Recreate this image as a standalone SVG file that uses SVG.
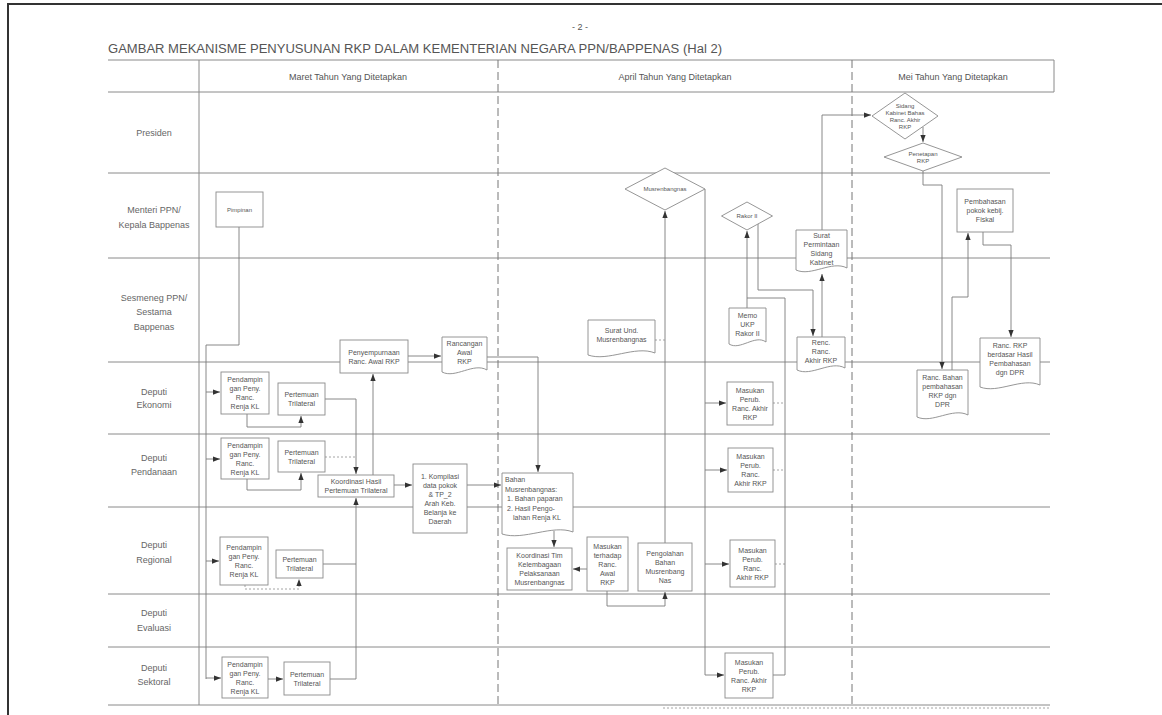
<svg xmlns="http://www.w3.org/2000/svg" width="1162" height="715" viewBox="0 0 1162 715">
<defs>
<marker id="a" viewBox="0 0 8 6" refX="8" refY="3" markerWidth="7" markerHeight="5.5" markerUnits="userSpaceOnUse" orient="auto"><path d="M0,0 L8,3 L0,6 z" fill="#333"/></marker>
<style>
.frame{stroke:#333;stroke-width:2;fill:none}
.grid{stroke:#8a8a8a;stroke-width:1;fill:none}
.dash{stroke:#777;stroke-width:1;fill:none;stroke-dasharray:8 4}
.box{fill:#fff;stroke:#8a8a8a;stroke-width:0.9}
.ln{fill:none;stroke:#7a7a7a;stroke-width:0.9}
.lnd{fill:none;stroke:#9a9a9a;stroke-width:0.9;stroke-dasharray:2 2}
.t{font-family:"Liberation Sans",Arial,sans-serif;font-size:7px;fill:#555;text-anchor:middle}
.ts{font-family:"Liberation Sans",Arial,sans-serif;font-size:6px;fill:#555;text-anchor:middle}
.tl{font-family:"Liberation Sans",Arial,sans-serif;font-size:7px;fill:#555}
.lab{font-family:"Liberation Sans",Arial,sans-serif;font-size:9px;fill:#666;text-anchor:middle}
.hd{font-family:"Liberation Sans",Arial,sans-serif;font-size:9px;fill:#555;text-anchor:middle}
</style>
</defs>
<rect width="1162" height="715" fill="#fff"/>
<!-- page frame -->
<path class="frame" d="M8,715 V4 H1162"/>
<text x="580" y="30" class="hd" font-size="11">- 2 -</text>
<text x="108" y="53" font-family="Liberation Sans, Arial, sans-serif" font-size="12" fill="#555" textLength="614" lengthAdjust="spacingAndGlyphs">GAMBAR MEKANISME PENYUSUNAN RKP DALAM KEMENTERIAN NEGARA PPN/BAPPENAS (Hal 2)</text>

<!-- table grid -->
<g id="grid">
<path class="grid" d="M108,60 H1054 V92" stroke-width="1.5"/>
<path class="grid" d="M108,92 H1054 M108,173 H1050 M108,258 H1050 M108,362 H1050 M108,434 H1050 M108,507 H1050 M108,594 H1050 M108,647 H1050 M108,705 H1050"/>
<path class="grid" d="M199,60 V705"/>
<path class="dash" d="M498,60 V705 M852,60 V705"/>
<path class="lnd" d="M663,708 H1050"/>
</g>
<g id="headers">
<text x="348" y="80" class="hd">Maret Tahun Yang Ditetapkan</text>
<text x="675" y="80" class="hd">April Tahun Yang Ditetapkan</text>
<text x="953" y="80" class="hd">Mei Tahun Yang Ditetapkan</text>
</g>
<g id="lanes">
<text x="154" y="136" class="lab">Presiden</text>
<text class="lab"><tspan x="154" y="213">Menteri PPN/</tspan><tspan x="154" y="228">Kepala Bappenas</tspan></text>
<text class="lab"><tspan x="154" y="301">Sesmeneg PPN/</tspan><tspan x="154" y="315">Sestama</tspan><tspan x="154" y="330">Bappenas</tspan></text>
<text class="lab"><tspan x="154" y="395">Deputi</tspan><tspan x="154" y="408">Ekonomi</tspan></text>
<text class="lab"><tspan x="154" y="461">Deputi</tspan><tspan x="154" y="475">Pendanaan</tspan></text>
<text class="lab"><tspan x="154" y="548">Deputi</tspan><tspan x="154" y="563">Regional</tspan></text>
<text class="lab"><tspan x="154" y="616">Deputi</tspan><tspan x="154" y="631">Evaluasi</tspan></text>
<text class="lab"><tspan x="154" y="671">Deputi</tspan><tspan x="154" y="685">Sektoral</tspan></text>
</g>

<!-- connectors -->
<g id="connectors">
<path class="ln" d="M239,227 V345 H206 V679"/>
<path class="ln" d="M206,392 H220" marker-end="url(#a)"/>
<path class="ln" d="M206,459 H220" marker-end="url(#a)"/>
<path class="ln" d="M206,561 H219" marker-end="url(#a)"/>
<path class="ln" d="M206,678 H221" marker-end="url(#a)"/>
<path class="ln" d="M247,414 V427 H301 V416" marker-end="url(#a)"/>
<path class="ln" d="M247,479 V490 H301 V473" marker-end="url(#a)"/>
<path class="ln" d="M325,399 H356 V474" marker-end="url(#a)"/>
<path class="lnd" d="M325,457 H356"/>
<path class="lnd" d="M245,585 V589 H299 V579" marker-end="url(#a)"/>
<path class="ln" d="M323,564 H356"/>
<path class="ln" d="M268,679 H283" marker-end="url(#a)"/>
<path class="ln" d="M330,679 H356 V498" marker-end="url(#a)"/>
<path class="ln" d="M373,475 V374" marker-end="url(#a)"/>
<path class="ln" d="M394,485 H412" marker-end="url(#a)"/>
<path class="ln" d="M408,356 H441" marker-end="url(#a)"/>
<path class="ln" d="M487,357 H538 V472" marker-end="url(#a)"/>
<path class="ln" d="M467,485 H501" marker-end="url(#a)"/>
<path class="ln" d="M554,531 V547" marker-end="url(#a)"/>
<path class="ln" d="M587,569 H573" marker-end="url(#a)"/>
<path class="ln" d="M607,591 V606 H665 V592" marker-end="url(#a)"/>
<path class="ln" d="M665,543 V211" marker-end="url(#a)"/>
<path class="lnd" d="M655,340 H665"/>
<path class="ln" d="M705,189 V675 H724" marker-end="url(#a)"/>
<path class="ln" d="M705,403 H726" marker-end="url(#a)"/>
<path class="ln" d="M705,470 H727" marker-end="url(#a)"/>
<path class="ln" d="M705,564 H729" marker-end="url(#a)"/>
<path class="lnd" d="M773,403 H785 M773,470 H785 M775,564 H785"/>
<path class="ln" d="M773,675 H785 V298 H747"/>
<path class="ln" d="M747,308 V231" marker-end="url(#a)"/>
<path class="ln" d="M758,222 V290 H813 V336" marker-end="url(#a)"/>
<path class="ln" d="M822,337 V274" marker-end="url(#a)"/>
<path class="ln" d="M822,230 V115 H871" marker-end="url(#a)"/>
<path class="ln" d="M923,127 V142" marker-end="url(#a)"/>
<path class="ln" d="M923,171 V185 H942 V369" marker-end="url(#a)"/>
<path class="ln" d="M952,370 V297 H968 V233" marker-end="url(#a)"/>
<path class="ln" d="M983,232 V245 H1011 V337" marker-end="url(#a)"/>
</g>

<!-- nodes -->
<g id="n-pimpinan"><rect class="box" x="216" y="192" width="47" height="35"/><text x="239.5" y="212" class="ts">Pimpinan</text></g>

<g id="n-pend-eko"><rect class="box" x="221" y="372" width="48" height="42"/><text class="t"><tspan x="245" y="382">Pendampin</tspan><tspan x="245" y="391">gan Peny.</tspan><tspan x="245" y="400">Ranc.</tspan><tspan x="245" y="409">Renja KL</tspan></text></g>
<g id="n-pert-eko"><rect class="box" x="278" y="383" width="47" height="32"/><text class="t"><tspan x="301.5" y="397">Pertemuan</tspan><tspan x="301.5" y="406">Trilateral</tspan></text></g>
<g id="n-pend-pend"><rect class="box" x="221" y="438" width="48" height="41"/><text class="t"><tspan x="245" y="447.5">Pendampin</tspan><tspan x="245" y="456.5">gan Peny.</tspan><tspan x="245" y="465.5">Ranc.</tspan><tspan x="245" y="474.5">Renja KL</tspan></text></g>
<g id="n-pert-pend"><rect class="box" x="278" y="441" width="47" height="31"/><text class="t"><tspan x="301.5" y="454.5">Pertemuan</tspan><tspan x="301.5" y="463.5">Trilateral</tspan></text></g>
<g id="n-koordinasi"><rect class="box" x="318" y="475" width="76" height="22"/><text class="t"><tspan x="356" y="484">Koordinasi Hasil</tspan><tspan x="356" y="493">Pertemuan Trilateral</tspan></text></g>
<g id="n-kompilasi"><rect class="box" x="413" y="464" width="54" height="69"/><text class="t"><tspan x="440" y="478.5">1. Kompilasi</tspan><tspan x="440" y="487.5">data pokok</tspan><tspan x="440" y="496.5">&amp; TP_2</tspan><tspan x="440" y="505.5">Arah Keb.</tspan><tspan x="440" y="514.5">Belanja ke</tspan><tspan x="440" y="523.5">Daerah</tspan></text></g>
<g id="n-penyempurnaan"><rect class="box" x="340" y="340" width="68" height="33"/><text class="t"><tspan x="374" y="354.5">Penyempurnaan</tspan><tspan x="374" y="363.5">Ranc. Awal RKP</tspan></text></g>
<g id="n-ranc-awal"><path class="box" d="M442,337 H487 V370 C473.5,362 455.5,379 442,372 Z"/><text class="t"><tspan x="464.5" y="345.5">Rancangan</tspan><tspan x="464.5" y="354.5">Awal</tspan><tspan x="464.5" y="363.5">RKP</tspan></text></g>
<g id="n-pend-reg"><rect class="box" x="220" y="537" width="48" height="48"/><text class="t"><tspan x="244" y="550">Pendampin</tspan><tspan x="244" y="559">gan Peny.</tspan><tspan x="244" y="568">Ranc.</tspan><tspan x="244" y="577">Renja KL</tspan></text></g>
<g id="n-pert-reg"><rect class="box" x="276" y="550" width="47" height="28"/><text class="t"><tspan x="299.5" y="562">Pertemuan</tspan><tspan x="299.5" y="571">Trilateral</tspan></text></g>
<g id="n-pend-sek"><rect class="box" x="222" y="657" width="46" height="41"/><text class="t"><tspan x="245" y="666.5">Pendampin</tspan><tspan x="245" y="675.5">gan Peny.</tspan><tspan x="245" y="684.5">Ranc.</tspan><tspan x="245" y="693.5">Renja KL</tspan></text></g>
<g id="n-pert-sek"><rect class="box" x="284" y="662" width="46" height="33"/><text class="t"><tspan x="307" y="676.5">Pertemuan</tspan><tspan x="307" y="685.5">Trilateral</tspan></text></g>

<g id="n-bahan-musren"><path class="box" d="M502,473 H573 V532 C552.7,524 523.3,541 502,534 Z"/><text class="tl"><tspan x="505" y="482">Bahan</tspan><tspan x="505" y="491.5">Musrenbangnas:</tspan><tspan x="507" y="501">1. Bahan paparan</tspan><tspan x="507" y="510.5">2. Hasil Pengo-</tspan><tspan x="513" y="520">lahan Renja KL</tspan></text></g>
<g id="n-koord-tim"><rect class="box" x="507" y="548" width="65" height="42"/><text class="t"><tspan x="539.5" y="558">Koordinasi Tim</tspan><tspan x="539.5" y="567">Kelembagaan</tspan><tspan x="539.5" y="576">Pelaksanaan</tspan><tspan x="539.5" y="585">Musrenbangnas</tspan></text></g>
<g id="n-masukan-awal"><rect class="box" x="587" y="537" width="41" height="54"/><text class="t"><tspan x="607.5" y="548.5">Masukan</tspan><tspan x="607.5" y="557.5">terhadap</tspan><tspan x="607.5" y="566.5">Ranc.</tspan><tspan x="607.5" y="575.5">Awal</tspan><tspan x="607.5" y="584.5">RKP</tspan></text></g>
<g id="n-pengolahan"><rect class="box" x="638" y="543" width="54" height="48"/><text class="t"><tspan x="665" y="556">Pengolahan</tspan><tspan x="665" y="565">Bahan</tspan><tspan x="665" y="574">Musrenbang</tspan><tspan x="665" y="583">Nas</tspan></text></g>
<g id="n-musrenbangnas"><polygon class="box" points="625,189 665,168 705,189 665,210"/><text x="665" y="191" class="ts">Musrenbangnas</text></g>
<g id="n-surat-und"><path class="box" d="M588,320 H655 V353 C634.9,345 608.1,362 588,355 Z"/><text class="t"><tspan x="621.5" y="333">Surat Und.</tspan><tspan x="621.5" y="342">Musrenbangnas</tspan></text></g>

<g id="n-masukan-eko"><rect class="box" x="727" y="382" width="46" height="43"/><text class="t"><tspan x="750" y="392.5">Masukan</tspan><tspan x="750" y="401.5">Perub.</tspan><tspan x="750" y="410.5">Ranc. Akhir</tspan><tspan x="750" y="419.5">RKP</tspan></text></g>
<g id="n-masukan-pend"><rect class="box" x="728" y="448" width="45" height="44"/><text class="t"><tspan x="750.5" y="459">Masukan</tspan><tspan x="750.5" y="468">Perub.</tspan><tspan x="750.5" y="477">Ranc.</tspan><tspan x="750.5" y="486">Akhir RKP</tspan></text></g>
<g id="n-masukan-reg"><rect class="box" x="730" y="540" width="45" height="47"/><text class="t"><tspan x="752.5" y="552.5">Masukan</tspan><tspan x="752.5" y="561.5">Perub.</tspan><tspan x="752.5" y="570.5">Ranc.</tspan><tspan x="752.5" y="579.5">Akhir RKP</tspan></text></g>
<g id="n-masukan-sek"><rect class="box" x="725" y="653" width="48" height="45"/><text class="t"><tspan x="749" y="664.5">Masukan</tspan><tspan x="749" y="673.5">Perub.</tspan><tspan x="749" y="682.5">Ranc. Akhir</tspan><tspan x="749" y="691.5">RKP</tspan></text></g>
<g id="n-rakor"><polygon class="box" points="721.5,216 747,202 772.5,216 747,230"/><text x="747" y="218" class="ts">Rakor II</text></g>
<g id="n-memo"><path class="box" d="M729,308 H766 V342 C754.9,334 740.1,351 729,344 Z"/><text class="t"><tspan x="747.5" y="317.5">Memo</tspan><tspan x="747.5" y="326.5">UKP</tspan><tspan x="747.5" y="335.5">Rakor II</tspan></text></g>
<g id="n-ranc-akhir"><path class="box" d="M797,337 H845 V368 C830.6,360 811.4,377 797,370 Z"/><text class="t"><tspan x="821" y="344.5">Renc.</tspan><tspan x="821" y="353.5">Ranc.</tspan><tspan x="821" y="362.5">Akhir RKP</tspan></text></g>
<g id="n-surat-sidang"><path class="box" d="M796,230 H847 V268 C831.7,260 811.3,277 796,270 Z"/><text class="t"><tspan x="821.5" y="238">Surat</tspan><tspan x="821.5" y="247">Permintaan</tspan><tspan x="821.5" y="256">Sidang</tspan><tspan x="821.5" y="265">Kabinet</tspan></text></g>

<g id="n-sidang"><polygon class="box" points="872,116 905,93 938,116 905,139"/><text font-size="5.5" class="ts"><tspan x="905" y="107.5">Sidang</tspan><tspan x="905" y="114.5">Kabinet Bahas</tspan><tspan x="905" y="121.5">Ranc. Akhir</tspan><tspan x="905" y="128.5">RKP</tspan></text></g>
<g id="n-penetapan"><polygon class="box" points="884,157 923,143 962,157 923,171"/><text class="ts"><tspan x="923" y="155.5">Penetapan</tspan><tspan x="923" y="162.5">RKP</tspan></text></g>
<g id="n-ranc-bahan"><path class="box" d="M917,370 H968 V415 C952.7,407 932.3,424 917,417 Z"/><text class="t"><tspan x="942.5" y="380">Ranc. Bahan</tspan><tspan x="942.5" y="389">pembahasan</tspan><tspan x="942.5" y="398">RKP dgn</tspan><tspan x="942.5" y="407">DPR</tspan></text></g>
<g id="n-pembahasan"><rect class="box" x="957" y="189" width="56" height="43"/><text class="t"><tspan x="985" y="204">Pembahasan</tspan><tspan x="985" y="213">pokok kebij.</tspan><tspan x="985" y="222">Fiskal</tspan></text></g>
<g id="n-ranc-rkp"><path class="box" d="M980,338 H1040 V385 C1022,377 998,394 980,387 Z"/><text class="t"><tspan x="1010" y="348">Ranc. RKP</tspan><tspan x="1010" y="357">berdasar Hasil</tspan><tspan x="1010" y="366">Pembahasan</tspan><tspan x="1010" y="375">dgn DPR</tspan></text></g>
</svg>
